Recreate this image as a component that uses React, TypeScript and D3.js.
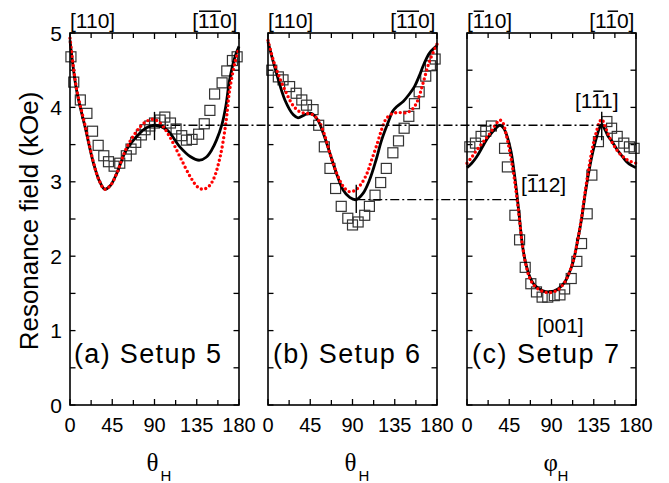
import React from 'react';
import * as d3 from 'd3';

type P = [number, number];

// ---------- data ----------
const yTicks = [0, 1, 2, 3, 4, 5];
const xTicks = [0, 45, 90, 135, 180];

// Panel (a) Setup 5
const squaresA: P[] = [
  [1, 4.68], [4, 4.34], [11, 4.10], [18, 3.92], [24, 3.68], [30, 3.49], [36, 3.35], [41, 3.27],
  [47, 3.21], [53, 3.25], [60, 3.35], [65, 3.44], [70, 3.53], [76, 3.63], [80, 3.70], [85, 3.75],
  [90, 3.79], [96, 3.83], [101, 3.87], [107, 3.79], [113, 3.71], [119, 3.62], [124, 3.56], [130, 3.57],
  [137, 3.64], [143, 3.78], [149, 3.96], [154, 4.18], [162, 4.33], [167, 4.49], [173, 4.63], [178, 4.68],
];
const blackA: P[] = [
  [0, 4.90], [7, 4.23], [16, 3.74], [25, 3.25], [31, 3.02], [37, 2.90], [43, 2.95], [50, 3.12],
  [60, 3.43], [71, 3.61], [82, 3.73], [91, 3.76], [103, 3.70], [117, 3.47], [128, 3.34], [138, 3.29],
  [145, 3.33], [151, 3.43], [156, 3.56], [162, 3.78], [166, 4.02], [170, 4.37], [175, 4.65], [180, 4.82],
];
const redA: P[] = [
  [0, 4.93], [7, 4.25], [16, 3.76], [25, 3.26], [31, 3.02], [37, 2.90], [43, 2.95], [50, 3.12],
  [60, 3.45], [71, 3.68], [80, 3.80], [88, 3.84], [96, 3.79], [106, 3.61], [117, 3.34], [128, 3.07],
  [136, 2.93], [142, 2.90], [148, 2.94], [153, 3.04], [160, 3.34], [166, 3.79], [170, 4.23], [176, 4.62], [180, 4.80],
];

// Panel (b) Setup 6
const squaresB: P[] = [
  [4, 4.50], [11, 4.41], [16, 4.37], [23, 4.28], [30, 4.19], [36, 4.10], [41, 4.03], [48, 3.97],
  [54, 3.76], [60, 3.47], [66, 3.18], [72, 2.91], [78, 2.67], [85, 2.51], [90, 2.42], [96, 2.46],
  [103, 2.55], [108, 2.67], [114, 2.82], [120, 2.99], [126, 3.18], [133, 3.39], [139, 3.55], [145, 3.72],
  [150, 3.88], [156, 4.05], [161, 4.21], [168, 4.42], [173, 4.56], [178, 4.65],
];
const blackB: P[] = [
  [0, 4.88], [9, 4.46], [18, 4.10], [27, 3.90], [32, 3.86], [39, 3.90], [46, 3.92], [53, 3.83],
  [59, 3.65], [66, 3.38], [73, 3.11], [80, 2.89], [87, 2.79], [94, 2.76], [101, 2.84], [108, 3.02],
  [115, 3.29], [121, 3.56], [128, 3.80], [133, 3.95], [138, 4.02], [144, 4.08], [150, 4.17], [156, 4.28],
  [161, 4.42], [166, 4.58], [172, 4.73], [180, 4.83],
];
const redB: P[] = [
  [0, 4.90], [6, 4.62], [13, 4.38], [20, 4.18], [27, 4.02], [34, 3.94], [41, 3.92], [48, 3.90],
  [54, 3.82], [60, 3.64], [66, 3.38], [73, 3.12], [80, 2.94], [86, 2.87], [92, 2.88], [98, 2.95],
  [105, 3.10], [110, 3.28], [116, 3.50], [121, 3.70], [126, 3.85], [133, 3.92], [140, 3.93], [148, 3.93],
  [154, 3.98], [159, 4.08], [165, 4.32], [172, 4.62], [180, 4.85],
];

// Panel (c) Setup 7
const squaresC: P[] = [
  [3, 3.47], [9, 3.52], [15, 3.61], [20, 3.68], [26, 3.75], [40, 3.45], [43, 3.20], [51, 2.55],
  [56, 2.22], [62, 1.85], [68, 1.63], [74, 1.52], [80, 1.45], [86, 1.45], [93, 1.47], [99, 1.48],
  [104, 1.56], [111, 1.70], [117, 1.93], [122, 2.17], [128, 2.57], [133, 3.09], [140, 3.54], [149, 3.81],
  [154, 3.72], [160, 3.61], [167, 3.52], [173, 3.47], [178, 3.45],
];
const blackC: P[] = [
  [0, 3.19], [5, 3.25], [10, 3.33], [15.6, 3.45], [20, 3.55], [24.5, 3.63], [30, 3.71], [35, 3.76],
  [39, 3.72], [43, 3.60], [47, 3.40], [50, 3.15], [53, 2.85], [56, 2.50], [59, 2.15], [63, 1.88],
  [67, 1.72], [72, 1.61], [80, 1.54], [88, 1.52], [97, 1.56], [104, 1.65], [109, 1.78], [113, 1.92],
  [118, 2.22], [122, 2.50], [126, 2.85], [130, 3.15], [134, 3.40], [138, 3.60], [141, 3.72], [143.5, 3.77],
  [147, 3.70], [150, 3.62], [154, 3.55], [160, 3.43], [165, 3.35], [170, 3.27], [175, 3.22], [180, 3.19],
];
const redC: P[] = [
  [0, 3.25], [5, 3.33], [10, 3.42], [15, 3.50], [20, 3.58], [25, 3.66], [30, 3.76], [35, 3.83],
  [38, 3.80], [42, 3.62], [46, 3.38], [50, 3.08], [53, 2.80], [56, 2.48], [59, 2.15], [63, 1.87],
  [67, 1.70], [72, 1.60], [80, 1.53], [88, 1.51], [97, 1.55], [104, 1.65], [109, 1.78], [113, 1.93],
  [118, 2.22], [122, 2.52], [126, 2.88], [130, 3.20], [134, 3.48], [138, 3.68], [141, 3.80], [143.5, 3.84],
  [147, 3.75], [150, 3.65], [155, 3.52], [160, 3.42], [165, 3.35], [170, 3.30], [175, 3.27], [180, 3.25],
];

const panelLabels = ['(a) Setup 5', '(b) Setup 6', '(c) Setup 7'];
const axisSymbols = ['θ', 'θ', 'φ'];

// ---------- layout ----------
const FONT = "'Liberation Sans', Arial, Helvetica, sans-serif";
const TOP = 33;
const BOTTOM = 405;
const PW = 169;
const LEFTS = [70, 268, 467];

const y = d3.scaleLinear().domain([0, 5]).range([BOTTOM, TOP]);
const xs = LEFTS.map((l) => d3.scaleLinear().domain([0, 180]).range([l, l + PW]));

const panels = [
  { sq: squaresA, black: blackA, red: redA },
  { sq: squaresB, black: blackB, red: redB },
  { sq: squaresC, black: blackC, red: redC },
];

function Miller({ x, yb, digits, bars, anchor = 'start', fs = 21 }: {
  x: number; yb: number; digits: string; bars: number[]; anchor?: 'start' | 'end'; fs?: number;
}) {
  const width = (0.278 * 2 + 0.556 * digits.length) * fs;
  const x0 = anchor === 'start' ? x : x - width;
  const segs: [number, number][] = [];
  let i = 0;
  while (i < digits.length) {
    if (bars[i]) {
      let j = i;
      while (j + 1 < digits.length && bars[j + 1]) j++;
      segs.push([x0 + 0.278 * fs + i * 0.556 * fs + 0.04 * fs, x0 + 0.278 * fs + (j + 1) * 0.556 * fs - 0.02 * fs]);
      i = j + 1;
    } else i++;
  }
  return (
    <g>
      <text x={x0} y={yb} fontSize={fs} fontFamily={FONT} fill="#000">{'[' + digits + ']'}</text>
      {segs.map((s, k) => (
        <line key={k} x1={s[0]} x2={s[1]} y1={yb - 0.8 * fs} y2={yb - 0.8 * fs} stroke="#000" strokeWidth={1.5} />
      ))}
    </g>
  );
}

export default function App() {
  const line = (xsc: d3.ScaleLinear<number, number>) =>
    d3.line<P>().x((d) => xsc(d[0])).y((d) => y(d[1])).curve(d3.curveCatmullRom.alpha(0.5));

  const minorX = d3.range(0, 181, 22.5);
  const minorY = d3.range(0, 5.01, 0.5);

  return (
    <svg width={669} height={483} style={{ position: 'absolute', left: 0, top: 0, background: '#fff' }}>
      <rect x={0} y={0} width={669} height={483} fill="#fff" />
      {/* y axis title */}
      <text
        transform={`translate(38,${(TOP + BOTTOM) / 2 + 2}) rotate(-90)`}
        textAnchor="middle" fontSize={26} fontFamily={FONT} fill="#000"
      >Resonance field (kOe)</text>
      {/* y tick labels */}
      {yTicks.map((t) => (
        <text key={t} x={62} y={y(t) + 7.5} textAnchor="end" fontSize={21} fontFamily={FONT} fill="#000">{t}</text>
      ))}

      {panels.map((p, pi) => {
        const xsc = xs[pi];
        const l = LEFTS[pi];
        const lg = line(xsc);
        return (
          <g key={pi}>
            {minorX.map((t) => {
              const len = t % 45 === 0 ? 6 : 5;
              return (
                <g key={'x' + t}>
                  <line x1={xsc(t)} x2={xsc(t)} y1={TOP} y2={TOP + len} stroke="#000" strokeWidth={1.3} />
                  <line x1={xsc(t)} x2={xsc(t)} y1={BOTTOM} y2={BOTTOM - len} stroke="#000" strokeWidth={1.3} />
                </g>
              );
            })}
            {minorY.map((t) => (
              <g key={'y' + t}>
                <line x1={l} x2={l + 5.5} y1={y(t)} y2={y(t)} stroke="#000" strokeWidth={1.3} />
                <line x1={l + PW} x2={l + PW - 5.5} y1={y(t)} y2={y(t)} stroke="#000" strokeWidth={1.3} />
              </g>
            ))}
            {xTicks.map((t) => (
              <text key={'xl' + t} x={xsc(t)} y={432} textAnchor="middle" fontSize={20} fontFamily={FONT} fill="#000">{t}</text>
            ))}
            {p.sq.map((d, k) => (
              <rect key={'s' + k} x={xsc(d[0]) - 5} y={y(d[1]) - 5} width={10} height={10}
                fill="none" stroke="#333" strokeWidth={1.2} />
            ))}
            <path d={lg(p.black) || ''} fill="none" stroke="#000" strokeWidth={2.8} />
            <path d={lg(p.red) || ''} fill="none" stroke="#ff0000" strokeWidth={3.4}
              strokeDasharray="0 4.6" strokeLinecap="round" />
            <rect x={l} y={TOP} width={PW} height={BOTTOM - TOP} fill="none" stroke="#000" strokeWidth={1.6} />
            <text x={l + (pi === 0 ? 4 : 5)} y={363} fontSize={27} fontFamily={FONT} fill="#000"
              textLength={147} lengthAdjust="spacing">{panelLabels[pi]}</text>
            <text x={l + PW / 2 - 8} y={471} fontSize={25} fontFamily="'Liberation Serif', 'Times New Roman', serif" fill="#000">{axisSymbols[pi]}</text>
            <text x={l + PW / 2 + 6} y={481} fontSize={15} fontFamily={FONT} fill="#000">H</text>
          </g>
        );
      })}

      <line x1={xs[0](90)} x2={xs[2](143.5)} y1={y(3.76)} y2={y(3.76)} stroke="#000" strokeWidth={1.3} strokeDasharray="9 3 2 3" />
      <line x1={xs[1](94)} x2={xs[2](53)} y1={y(2.76)} y2={y(2.76)} stroke="#000" strokeWidth={1.3} strokeDasharray="9 3 2 3" />

      <line x1={xs[0](90)} x2={xs[0](90)} y1={y(3.94)} y2={y(3.56)} stroke="#000" strokeWidth={1.4} />
      <line x1={xs[1](94)} x2={xs[1](94)} y1={y(2.96)} y2={y(2.58)} stroke="#000" strokeWidth={1.4} />
      <line x1={xs[2](143.5)} x2={xs[2](143.5)} y1={y(3.94)} y2={y(3.56)} stroke="#000" strokeWidth={1.4} />

      <Miller x={LEFTS[0]} yb={28} digits="110" bars={[0, 0, 0]} />
      <Miller x={LEFTS[0] + PW} yb={28} digits="110" bars={[1, 1, 0]} anchor="end" />
      <Miller x={LEFTS[1]} yb={28} digits="110" bars={[0, 0, 0]} />
      <Miller x={LEFTS[1] + PW} yb={28} digits="110" bars={[1, 1, 0]} anchor="end" />
      <Miller x={LEFTS[2]} yb={28} digits="110" bars={[1, 0, 0]} />
      <Miller x={LEFTS[2] + PW} yb={28} digits="110" bars={[0, 1, 0]} anchor="end" />
      <Miller x={575} yb={108} digits="111" bars={[0, 1, 0]} />
      <Miller x={521} yb={192} digits="112" bars={[1, 0, 0]} />
      <Miller x={537} yb={333} digits="001" bars={[0, 0, 0]} />
    </svg>
  );
}
